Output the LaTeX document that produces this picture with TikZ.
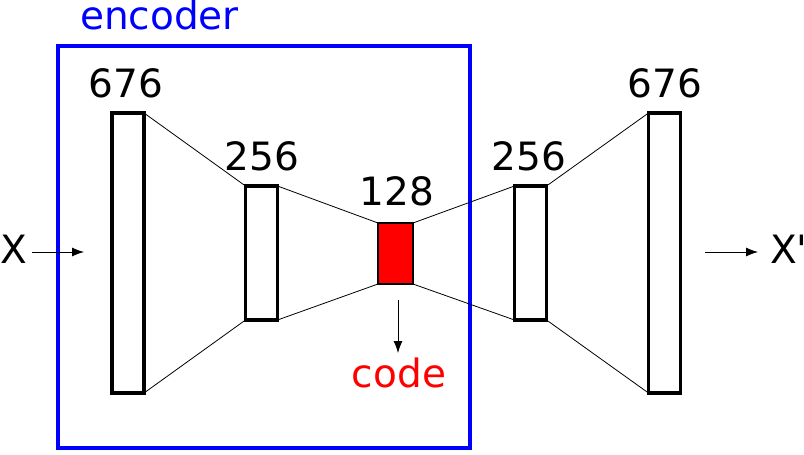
\documentclass[tikz,border=0pt]{standalone}
\usepackage{fontspec}
\setmainfont{DejaVu Sans}
\usetikzlibrary{arrows.meta}

\begin{document}
\begin{tikzpicture}[x=1pt,y=-1pt,
      layer/.style={rectangle, draw=black, line width=3.5pt, outer sep=0pt,
        minimum width=32pt, inner sep=0pt},
      codebox/.style={rectangle, draw=black, fill=red, line width=2pt,
        outer sep=0pt, minimum width=35pt, minimum height=61pt, inner sep=0pt},
      lbl/.style={anchor=base, inner sep=0pt, font=\fontsize{39}{47}\selectfont},
      link/.style={line width=0.8pt},
      flow/.style={-{Latex[length=12pt,width=9pt]}, line width=0.8pt}]

    \useasboundingbox (0,0) rectangle (804,455);

    % encoder frame
    \draw[blue, line width=4.5pt] (58,46) rectangle (470,448);
    \node[lbl, text=blue, anchor=base west] (enc) at (80,30) {encoder};

    % layers
    \node[layer, minimum height=280pt] (l1) at (128,253) {};
    \node[layer, minimum height=134pt] (l2) at (261.5,253) {};
    \node[codebox] (l3) at (395.5,253.5) {};
    \node[layer, minimum height=134pt] (l4) at (530.5,253) {};
    \node[layer, minimum height=280pt] (l5) at (664.5,253) {};

    \node[lbl] (n1) at (126,97) {676};
    \node[lbl] (n2) at (262,170) {256};
    \node[lbl] (n3) at (397,205) {128};
    \node[lbl] (n4) at (529,170) {256};
    \node[lbl] (n5) at (665,97) {676};

    \draw[link] (l1.north east) -- (l2.north west);
    \draw[link] (l1.south east) -- (l2.south west);
    \draw[link] (l2.north east) -- (l3.north west);
    \draw[link] (l2.south east) -- (l3.south west);
    \draw[link] (l3.north east) -- (l4.north west);
    \draw[link] (l3.south east) -- (l4.south west);
    \draw[link] (l4.north east) -- (l5.north west);
    \draw[link] (l4.south east) -- (l5.south west);

    % input, output and code
    \node[lbl, anchor=base west] (x) at (0,263) {X};
    \coordinate (xin) at (84,252);
    \draw[flow] (x.east |- xin) ++(5,0) -- (xin);

    \coordinate (xout) at (705,252);
    \node[lbl, anchor=base west] (xp) at (770,263) {X\textquotesingle};
    \draw[flow] (xout) -- ([xshift=-12pt]xp.west |- xout);

    \coordinate (cstart) at (398,300);
    \node[lbl, text=red] (code) at (399,387) {code};
    \draw[flow] (cstart) -- (398,353);

  \end{tikzpicture}
\end{document}
